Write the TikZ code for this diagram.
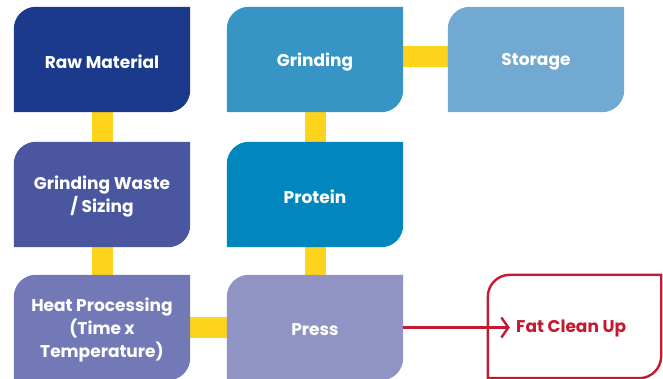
\documentclass[tikz,border=0pt]{standalone}
\usepackage{fontspec}
\setmainfont{Poppins}
\usetikzlibrary{backgrounds,arrows.meta}
\definecolor{cRaw}{HTML}{1C3A8C}
\definecolor{cGrind}{HTML}{3795C6}
\definecolor{cStor}{HTML}{72A9D2}
\definecolor{cWaste}{HTML}{4A57A0}
\definecolor{cProt}{HTML}{0187BE}
\definecolor{cHeat}{HTML}{7279B6}
\definecolor{cPress}{HTML}{9193C4}
\definecolor{cYel}{HTML}{FDD31C}
\definecolor{cRed}{HTML}{C41A30}
\newcommand{\leafshape}[3]{% node, fill/draw options, radius
  \path[#2] (#1.south west) -- ([yshift=-#3]#1.north west)
    arc[start angle=180,end angle=90,radius=#3] -- (#1.north east)
    -- ([yshift=#3]#1.south east)
    arc[start angle=0,end angle=-90,radius=#3] -- cycle;}
\tikzset{
  stepbox/.style={rectangle, minimum width=176pt, minimum height=105pt, inner sep=0pt},
  boxtext/.style={text=white, align=center, inner sep=0pt, yshift=-2.5pt,
    font=\fontsize{17}{23}\selectfont\bfseries},
  yelbar/.style={draw=cYel, line width=21pt},
  redline/.style={draw=cRed, line width=2.4pt},
}
\begin{document}
\begin{tikzpicture}[x=1pt,y=1pt]
\useasboundingbox (0,0) rectangle (663,379);
\node[stepbox, label={[boxtext]center:Raw Material}] (raw)   at (102,319.5) {};
\node[stepbox, label={[boxtext]center:Grinding}] (grind) at (315,319.5) {};
\node[stepbox, label={[boxtext]center:Storage}] (stor)  at (536,319.5) {};
\node[stepbox, label={[boxtext]center:{Grinding Waste\\/ Sizing}}] (waste) at (102,184.5) {};
\node[stepbox, label={[boxtext]center:Protein}] (prot)  at (315,184.5) {};
\node[stepbox, label={[boxtext]center:{Heat Processing\\(Time x\\Temperature)}}] (heat)  at (102,51.5) {};
\node[stepbox, label={[boxtext]center:Press}] (press) at (315,51.5) {};
\node[stepbox, minimum width=173pt, minimum height=103pt] (fat) at (574.5,52.5) {};
\node[text=cRed, font=\fontsize{17}{20}\selectfont\bfseries, anchor=west, inner sep=0pt] (fattext) at (516,50.5) {Fat Clean Up};
\begin{scope}[on background layer]
  \draw[yelbar] (raw.south) -- (waste.north);
  \draw[yelbar] (waste.south) -- (heat.north);
  \draw[yelbar] (grind.south) -- (prot.north);
  \draw[yelbar] (prot.south) -- (press.north);
  \draw[yelbar] ([yshift=3pt]grind.east) -- ([yshift=3pt]stor.west);
  \draw[yelbar] (heat.east) -- (press.west);
  \leafshape{raw}{fill=cRaw}{22pt}
  \leafshape{grind}{fill=cGrind}{22pt}
  \leafshape{stor}{fill=cStor}{22pt}
  \leafshape{waste}{fill=cWaste}{22pt}
  \leafshape{prot}{fill=cProt}{22pt}
  \leafshape{heat}{fill=cHeat}{22pt}
  \leafshape{press}{fill=cPress}{22pt}
  \leafshape{fat}{redline}{22pt}
\end{scope}
\draw[redline, -{Straight Barb[length=7pt,width=20pt]}] (press.east) -- ([xshift=22pt]fat.west |- press.east);
\end{tikzpicture}
\end{document}
